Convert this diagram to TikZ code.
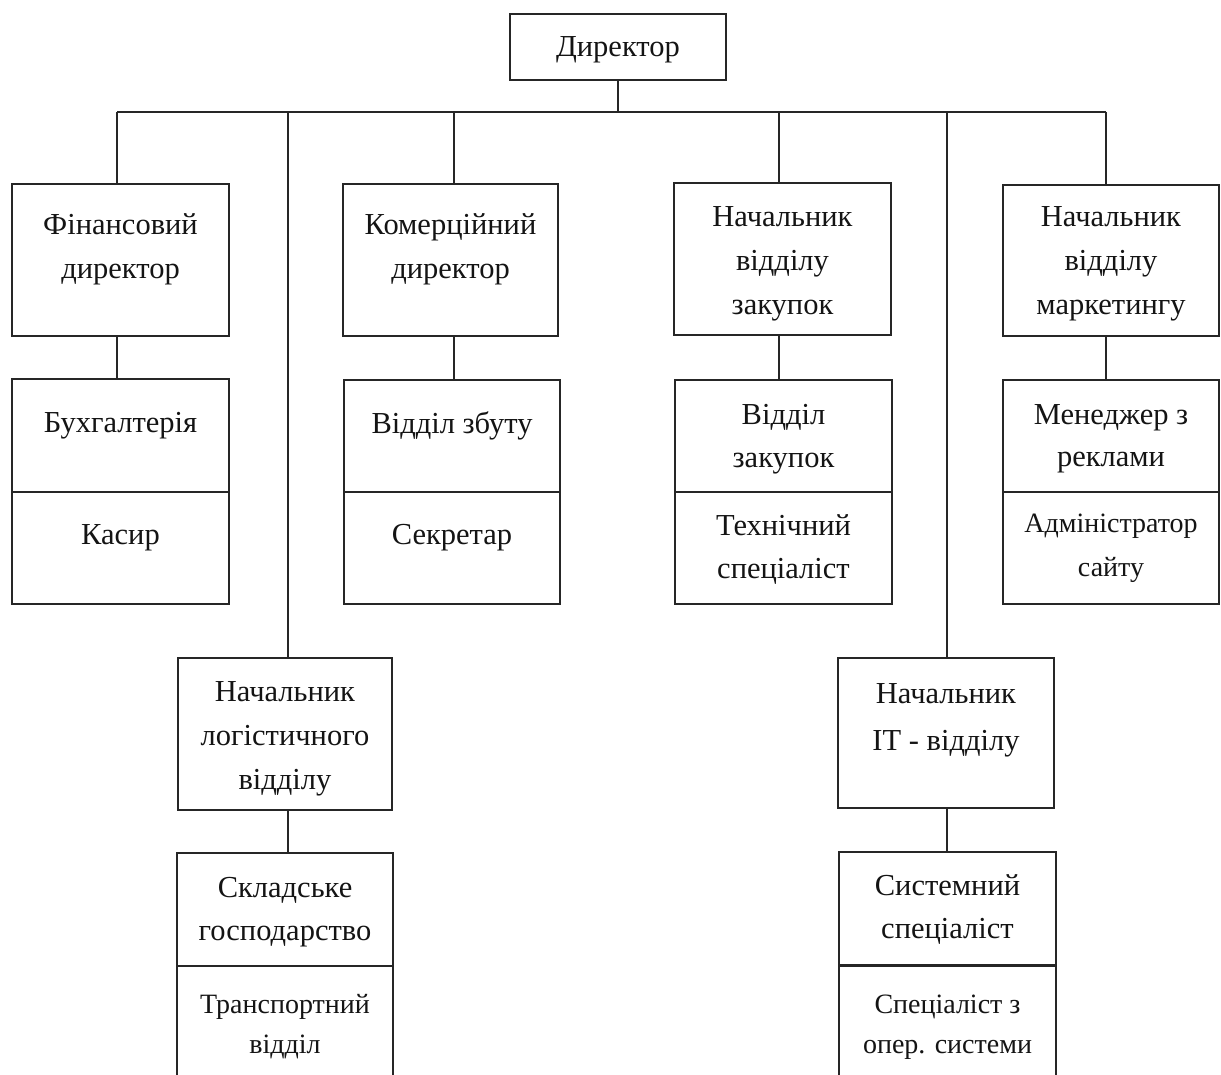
\documentclass[tikz,border=0pt]{standalone}
\usepackage{fontspec}
\setmainfont{Liberation Serif}
\newcommand\mkbox[6][]{%
  \node[cell,#1, minimum width={(#5-#3)*1pt}, minimum height={(#6-#4)*1pt}] (#2) at ({(#3+#5)/2},{(#4+#6)/2}) {};}
\begin{document}
\begin{tikzpicture}[x=1pt,y=-1pt,
  cell/.style={draw=black!85, line width=1.5pt, rectangle, inner sep=0pt},
  conn/.style={draw=black!85, line width=1.5pt},
  lbl/.style={font=\fontsize{30.5}{44}\selectfont, align=center, inner sep=0pt, text=black!92, yshift=-3pt},
  lblsub/.style={font=\fontsize{30.5}{42.5}\selectfont, align=center, inner sep=0pt, text=black!92, yshift=-3pt},
  lblsm/.style={font=\fontsize{28}{40}\selectfont, align=center, inner sep=0pt, text=black!92, yshift=-3pt}]
\useasboundingbox (0,0) rectangle (1221,1075);
\clip (0,0) rectangle (1221,1075);
\fill[white] (0,0) rectangle (1221,1075);

% boxes
\mkbox{dir}{510}{14}{726}{80}
\mkbox{fin}{12}{184}{229}{336}
\mkbox{finA}{12}{379}{229}{492}
\mkbox{finB}{12}{492}{229}{604}
\mkbox{kom}{343}{184}{558}{336}
\mkbox{komA}{344}{380}{560}{492}
\mkbox{komB}{344}{492}{560}{604}
\mkbox{zak}{674}{183}{891}{335}
\mkbox{zakA}{675}{380}{892}{492}
\mkbox{zakB}{675}{492}{892}{604}
\mkbox{mkt}{1003}{185}{1219}{336}
\mkbox{mktA}{1003}{380}{1219}{492}
\mkbox{mktB}{1003}{492}{1219}{604}
\mkbox{log}{178}{658}{392}{810}
\mkbox{logA}{177}{853}{393}{966}
\mkbox{logB}{177}{966}{393}{1110}
\mkbox{it}{838}{658}{1054}{808}
\mkbox{itA}{839}{852}{1056}{965}
\mkbox{itB}{839}{965}{1056}{1110}
\draw[conn, line width=2.4pt] (itA.south west) -- (itA.south east);

% texts
\node[lbl] (tdir) at (618,47) {Директор};
\node[lbl] (tfin) at (120.5,246.5) {Фінансовий\\директор};
\node[lblsub] (tfinA) at (120.5,423) {Бухгалтерія};
\node[lblsub] (tfinB) at (120.5,535) {Касир};
\node[lbl] (tkom) at (450.5,246.5) {Комерційний\\директор};
\node[lblsub] (tkomA) at (452,423) {Відділ збуту};
\node[lblsub] (tkomB) at (452,535) {Секретар};
\node[lbl] (tzak) at (782.5,261) {Начальник\\відділу\\закупок};
\node[lblsub] (tzakA) at (783.5,436) {Відділ\\закупок};
\node[lblsub] (tzakB) at (783.5,546.5) {Технічний\\спеціаліст};
\node[lbl] (tmkt) at (1111,261) {Начальник\\відділу\\маркетингу};
\node[lblsub] (tmktA) at (1111,436) {Менеджер з\\реклами};
\node[lblsm, font=\fontsize{28}{44}\selectfont] (tmktB) at (1111,545) {Адміністратор\\сайту};
\node[lbl] (tlog) at (285,735.5) {Начальник\\логістичного\\відділу};
\node[lblsub] (tlogA) at (285,909) {Складське\\господарство};
\node[lblsm] (tlogB) at (285,1024) {Транспортний\\відділ};
\node[lbl, font=\fontsize{30.5}{47}\selectfont] (tit) at (946,717.5) {Начальник\\IT - відділу};
\node[lblsub] (titA) at (947.5,906.5) {Системний\\спеціаліст};
\node[lblsm] (titB) at (947.5,1024) {Спеціаліст з\\опер. системи};

% connectors
\coordinate (c1) at (117,112);
\coordinate (c2) at (288,112);
\coordinate (c3) at (454,112);
\coordinate (c4) at (779,112);
\coordinate (c5) at (947,112);
\coordinate (c6) at (1106,112);
\draw[conn] (dir.south) -- (dir.south |- c1);
\draw[conn] (c1) -- (c6);
\draw[conn] (c1) -- (fin.north -| c1);
\draw[conn] (c2) -- (log.north -| c2);
\draw[conn] (c3) -- (kom.north -| c3);
\draw[conn] (c4) -- (zak.north -| c4);
\draw[conn] (c5) -- (it.north -| c5);
\draw[conn] (c6) -- (mkt.north -| c6);
\draw[conn] (fin.south -| c1) -- (finA.north -| c1);
\draw[conn] (kom.south -| c3) -- (komA.north -| c3);
\draw[conn] (zak.south -| c4) -- (zakA.north -| c4);
\draw[conn] (mkt.south -| c6) -- (mktA.north -| c6);
\draw[conn] (log.south -| c2) -- (logA.north -| c2);
\draw[conn] (it.south -| c5) -- (itA.north -| c5);
\end{tikzpicture}
\end{document}
